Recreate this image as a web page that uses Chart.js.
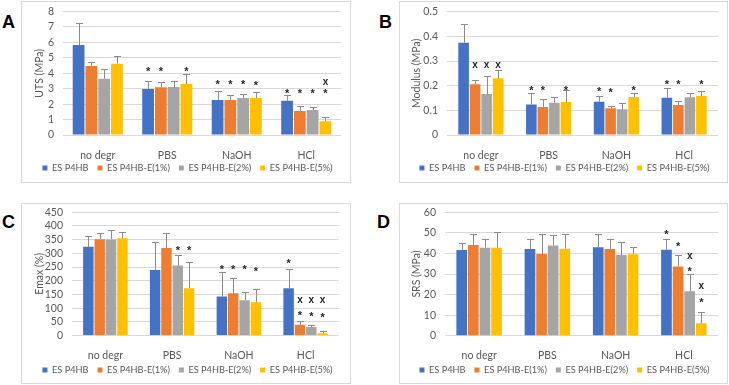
<!DOCTYPE html>
<html>
<head>
<meta charset="utf-8">
<script src="https://cdn.jsdelivr.net/npm/chart.js@4.4.1/dist/chart.umd.min.js"></script>
<style>
  html,body{margin:0;padding:0;background:#fff;}
  body{width:729px;height:385px;overflow:hidden;position:relative;font-family:Lato,"Liberation Sans",Arial,sans-serif;}
  .frame{position:absolute;border:1px solid #d9d9d9;box-sizing:border-box;}
  canvas{position:absolute;}
  .tag{position:absolute;font:bold 18px "Liberation Sans",Arial,sans-serif;line-height:18px;color:#000;}
</style>
</head>
<body>
<div class="frame" style="left:21px;top:1px;width:330px;height:182px"></div>
<div class="frame" style="left:399px;top:1px;width:329px;height:182px"></div>
<div class="frame" style="left:21px;top:203px;width:330px;height:181px"></div>
<div class="frame" style="left:399px;top:203px;width:329px;height:181px"></div>
<canvas id="cA" style="left:21px;top:0px"></canvas>
<canvas id="cB" style="left:399px;top:0px"></canvas>
<canvas id="cC" style="left:21px;top:190px"></canvas>
<canvas id="cD" style="left:399px;top:190px"></canvas>
<div class="tag" style="left:2px;top:13px">A</div>
<div class="tag" style="left:379px;top:13px">B</div>
<div class="tag" style="left:2px;top:213px">C</div>
<div class="tag" style="left:377px;top:213px">D</div>
<script>
// shared categories / series
const categories=['no degr','PBS','NaOH','HCl'];
const seriesNames=['ES P4HB','ES P4HB-E(1%)','ES P4HB-E(2%)','ES P4HB-E(5%)'];
const seriesColors=['#4472c4','#ed7d31','#a5a5a5','#ffc000'];

// A: UTS (MPa) — rows are series, columns are categories
const utsMean=[[5.83,2.98,2.27,2.22],[4.47,3.09,2.27,1.55],[3.65,3.11,2.40,1.62],[4.62,3.30,2.40,0.89]];
const utsErr =[[1.44,0.52,0.58,0.35],[0.28,0.34,0.30,0.31],[0.60,0.41,0.28,0.21],[0.50,0.65,0.38,0.30]];
// marks: [category, series, value, symbol]
const utsMarks=[[1,0,4.2,'*'],[1,1,4.2,'*'],[1,3,4.2,'*'],
  [2,0,3.35,'*'],[2,1,3.35,'*'],[2,2,3.35,'*'],[2,3,3.33,'*'],
  [3,0,2.77,'*'],[3,1,2.77,'*'],[3,2,2.77,'*'],[3,3,2.77,'*'],[3,3,3.39,'x']];

// B: Modulus (MPa)
const modMean=[[0.374,0.124,0.135,0.151],[0.206,0.114,0.108,0.122],[0.166,0.131,0.104,0.153],[0.230,0.134,0.154,0.158]];
const modErr =[[0.075,0.045,0.022,0.038],[0.017,0.031,0.011,0.016],[0.074,0.024,0.024,0.016],[0.032,0.047,0.018,0.019]];
const modMarks=[[0,1,0.284,'x'],[0,2,0.284,'x'],[0,3,0.284,'x'],
  [1,0,0.185,'*'],[1,1,0.185,'*'],[1,3,0.185,'*'],
  [2,0,0.182,'*'],[2,1,0.18,'*'],[2,3,0.185,'*'],
  [3,0,0.21,'*'],[3,1,0.21,'*'],[3,3,0.21,'*']];

// C: Emax (%)
const emaxMean=[[324,239,142,173],[352,320,154,39],[351,256,129,31],[355,173,121,8]];
const emaxErr =[[40,101,89,71],[21,53,55,13],[33,37,31,8],[22,97,48,7]];
const emaxMarks=[[1,2,316,'*'],[1,3,316,'*'],
  [2,0,247,'*'],[2,1,246,'*'],[2,2,245,'*'],[2,3,240,'*'],
  [3,0,270,'*'],[3,1,128,'x'],[3,2,128,'x'],[3,3,128,'x'],
  [3,1,79,'*'],[3,2,75,'*'],[3,3,73,'*']];

// D: SRS (MPa)
const srsMean=[[41.7,42.1,43.0,41.8],[44.1,39.7,42.1,33.7],[42.8,43.8,39.2,21.6],[42.8,42.3,39.6,6.0]];
const srsErr =[[3.5,4.8,6.6,5.1],[5.2,9.9,4.8,5.5],[4.4,5.0,6.5,8.2],[7.5,7.0,3.4,5.4]];
const srsMarks=[[3,0,49.8,'*'],[3,1,44.2,'*'],[3,2,38.4,'x'],[3,2,32.0,'*'],[3,3,24.0,'x'],[3,3,16.9,'*']];

const FONT='Lato, "Liberation Sans", Arial, sans-serif';
const TXT='#595959';

// upper error whiskers + significance marks
const barExtras={
  id:'barExtras',
  afterDatasetsDraw(chart,args,opts){
    const {ctx}=chart; const ys=chart.scales.y;
    ctx.save();
    ctx.strokeStyle='#8c8c8c'; ctx.lineWidth=1;
    chart.data.datasets.forEach((ds,i)=>{
      chart.getDatasetMeta(i).data.forEach((bar,j)=>{
        const x=Math.round(bar.x)+0.5;
        const y0=ys.getPixelForValue(ds.data[j]);
        const y1=Math.round(ys.getPixelForValue(ds.data[j]+ds.errors[j]))+0.5;
        ctx.beginPath();
        ctx.moveTo(x,y0); ctx.lineTo(x,y1);
        ctx.moveTo(x-3.5,y1); ctx.lineTo(x+3.5,y1);
        ctx.stroke();
      });
    });
    ctx.fillStyle='#262626'; ctx.textAlign='center'; ctx.textBaseline='middle';
    (opts.marks||[]).forEach(([c,s,v,sym])=>{
      const bar=chart.getDatasetMeta(s).data[c];
      ctx.font=sym==='x'?'bold 10px "Liberation Sans", Arial':'bold 11px "Liberation Sans", Arial';
      ctx.fillText(sym,bar.x,ys.getPixelForValue(v)+(sym==='*'?2:0));
    });
    ctx.restore();
  }
};

function makePanel(id,cfg){
  const cv=document.getElementById(id);
  cv.width=cfg.w; cv.height=cfg.h;
  cv.style.width=cfg.w+'px'; cv.style.height=cfg.h+'px';
  const lp=9, item=9.2;
  const legendTop=cfg.legendY-lp-item/2;
  const legendH=item+lp+10;
  new Chart(cv,{
    type:'bar',
    data:{
      labels:categories,
      datasets:seriesNames.map((n,i)=>({
        label:n,data:cfg.mean[i],errors:cfg.err[i],
        backgroundColor:seriesColors[i],borderWidth:0,
        categoryPercentage:cfg.catPct,barPercentage:0.92
      }))
    },
    options:{
      responsive:false,animation:false,
      layout:{padding:{left:0,right:0,top:cfg.top,bottom:cfg.h-legendTop-legendH}},
      plugins:{
        legend:{position:'bottom',labels:{boxWidth:5,boxHeight:5,padding:lp,color:TXT,font:{family:FONT,size:9.2}}},
        tooltip:{enabled:false},
        barExtras:{marks:cfg.marks}
      },
      scales:{
        x:{
          grid:{display:false},border:{display:false},
          ticks:{color:TXT,font:{family:FONT,size:10.5},padding:cfg.xPad},
          afterFit(s){
            s.height=legendTop-cfg.bottom;
            s._computeLabelArea=()=>null; // the axis box is tight, don't clip the descenders
          }
        },
        y:{
          min:0,max:cfg.max,
          grid:{color:'#d9d9d9',drawTicks:true,tickLength:6,tickColor:'rgba(0,0,0,0)'},border:{display:false},
          ticks:{stepSize:cfg.step,autoSkip:false,color:TXT,font:{family:FONT,size:10.5},padding:3,
            callback:v=>+v.toFixed(2)},
          title:{display:true,text:cfg.title,color:TXT,font:{family:FONT,size:10.5},padding:{top:cfg.titlePad,bottom:0}},
          afterFit(s){ s.width=cfg.left; }
        },
        // empty right-hand spacer so the legend can use the full canvas width
        r:{
          type:'linear',position:'right',display:true,
          grid:{display:false},border:{display:false},ticks:{display:false},
          afterFit(s){ s.width=cfg.w-cfg.right; }
        }
      }
    },
    plugins:[barExtras]
  });
}

makePanel('cA',{w:333,h:190,left:42,right:320,top:11.5,bottom:135,legendY:168,xPad:6,catPct:0.735,
  mean:utsMean,err:utsErr,marks:utsMarks,max:8,step:1,title:'UTS (MPa)',titlePad:12.7});
makePanel('cB',{w:331,h:190,left:48,right:319,top:11.7,bottom:135,legendY:168,xPad:6,catPct:0.68,
  mean:modMean,err:modErr,marks:modMarks,max:0.5,step:0.1,title:'Modulus (MPa)',titlePad:11.7});
makePanel('cC',{w:333,h:200,left:51,right:318,top:22.3,bottom:145.5,legendY:180,xPad:6,catPct:0.68,
  mean:emaxMean,err:emaxErr,marks:emaxMarks,max:450,step:50,title:'Emax (%)',titlePad:12.7});
makePanel('cD',{w:331,h:200,left:46,right:319,top:22.3,bottom:145.7,legendY:180,xPad:6,catPct:0.68,
  mean:srsMean,err:srsErr,marks:srsMarks,max:60,step:10,title:'SRS (MPa)',titlePad:11.2});
</script>
</body>
</html>
